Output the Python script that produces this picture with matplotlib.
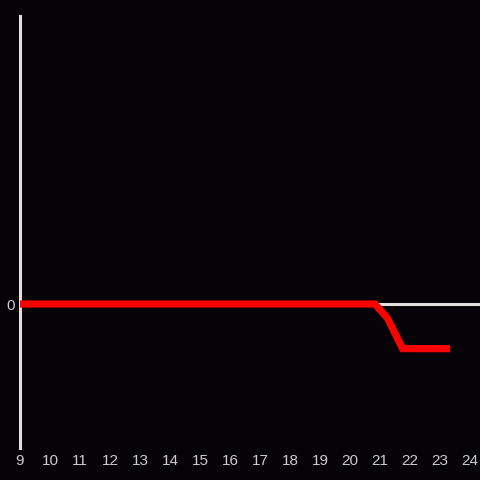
import matplotlib.pyplot as plt

# hours and values of the red series
hours = [9, 20.83, 21.25, 21.75, 23.33]
values = [0, 0, -0.1, -0.31, -0.31]
xticks = list(range(9, 25))

bg = "#050308"
plt.rcParams["font.family"] = ["Liberation Sans", "DejaVu Sans"]

fig = plt.figure(figsize=(4.8, 4.8), dpi=100, facecolor=bg)
ax = fig.add_axes([20 / 480, 32 / 480, 460 / 480, 432 / 480], facecolor=bg)

ax.axhline(0, color="#e0e0e0", lw=2.2, zorder=1)
ax.plot(hours, values, color="#ff0000", lw=5.2, solid_joinstyle="miter",
        solid_capstyle="butt", zorder=3)

ax.set_xlim(9, 24.33)
ax.set_ylim(-1, 2)
ax.set_xticks(xticks)
ax.set_xticklabels([str(h) for h in xticks])
ax.set_yticks([0])
ax.set_yticklabels(["0"])
ax.tick_params(length=0, colors="#cccccc", labelsize=11)
ax.tick_params(axis="x", pad=4.5)
ax.tick_params(axis="y", pad=4)

for s in ["top", "right", "bottom"]:
    ax.spines[s].set_visible(False)
ax.spines["left"].set_color("#e0e0e0")
ax.spines["left"].set_linewidth(2.2)

fig.savefig("out.png", dpi=100, facecolor=bg)
